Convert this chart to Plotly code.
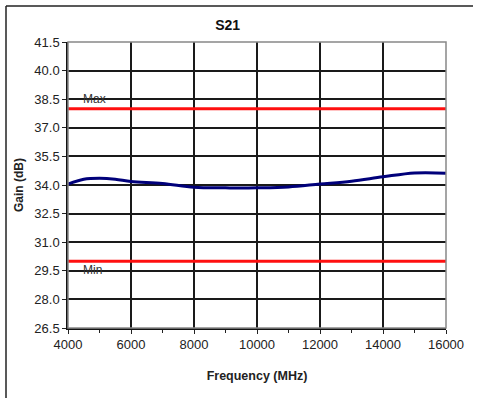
import plotly.graph_objects as go

freq = [4000, 4500, 5000, 5500, 6000, 7000, 8000, 9000, 9500, 10000, 11000, 12000, 13000, 14000, 15000, 16000]
gain = [34.05, 34.3, 34.35, 34.3, 34.18, 34.08, 33.88, 33.85, 33.84, 33.85, 33.9, 34.05, 34.2, 34.43, 34.63, 34.62]
max_limit = 38.0
min_limit = 30.0
x_range = [4000, 16000]
y_ticks = [26.5, 28.0, 29.5, 31.0, 32.5, 34.0, 35.5, 37.0, 38.5, 40.0, 41.5]

L, R, T, B = 68, 32, 42, 70
W, H = 478, 398
pw, ph = W - L - R, H - T - B

def px(x):
    return (x - L) / pw

def py(y):
    return (H - B - y) / ph

fig = go.Figure()
fig.add_trace(go.Scatter(x=x_range, y=[max_limit, max_limit], mode="lines",
                         line=dict(color="#ff1010", width=3), hoverinfo="skip"))
fig.add_trace(go.Scatter(x=x_range, y=[min_limit, min_limit], mode="lines",
                         line=dict(color="#ff1010", width=3), hoverinfo="skip"))
fig.add_trace(go.Scatter(x=freq, y=gain, mode="lines",
                         line=dict(color="#00007a", width=3, shape="spline", smoothing=1.0)))

fig.add_annotation(x=4400, y=38.5, text="Max", showarrow=False, xanchor="left",
                   font=dict(family="Liberation Sans, Arial", size=12, color="#333"))
fig.add_annotation(x=4400, y=29.55, text="Min", showarrow=False, xanchor="left",
                   font=dict(family="Liberation Sans, Arial", size=12, color="#333"))

# outer frame (left and top edges)
fig.add_shape(type="line", xref="paper", yref="paper", x0=px(6), x1=px(6), y0=py(6), y1=py(398),
              line=dict(color="#222", width=1.5))
fig.add_shape(type="line", xref="paper", yref="paper", x0=px(6), x1=px(473), y0=py(6), y1=py(6),
              line=dict(color="#222", width=1.5))
# plot area border
fig.add_shape(type="rect", xref="paper", yref="paper", x0=0, x1=1, y0=0, y1=1,
              line=dict(color="#888", width=1.5), layer="above")

fig.update_layout(
    width=W, height=H,
    margin=dict(l=L, r=R, t=T, b=B),
    paper_bgcolor="white", plot_bgcolor="white",
    showlegend=False,
    font=dict(family="Liberation Sans, Arial", size=13, color="#222"),
    title=dict(text="<b>S21</b>", x=px(248), xanchor="center", y=1 - 25 / H, yanchor="middle",
               font=dict(size=14, color="#111")),
    xaxis=dict(range=x_range, dtick=2000, tickformat="d", showgrid=True, gridcolor="#1a1a1a", gridwidth=1.5,
               ticks="outside", ticklen=4, tickcolor="#222", showline=True, linecolor="#111", linewidth=1.5,
               minor=dict(dtick=1000, ticks="outside", ticklen=3, tickcolor="#222", showgrid=False),
               zeroline=False, tickfont=dict(size=13),
               title=dict(text="<b>Frequency (MHz)</b>", font=dict(size=12.5), standoff=20)),
    yaxis=dict(range=[26.5, 41.5], tickvals=y_ticks, tickformat=".1f", showgrid=True,
               gridcolor="#1a1a1a", gridwidth=1.5, ticks="outside", ticklen=4, tickcolor="#222",
               showline=True, linecolor="#111", linewidth=1.5, zeroline=False, tickfont=dict(size=13),
               title=dict(text="<b>Gain (dB)</b>", font=dict(size=12), standoff=8)),
)

fig.write_html("out.html")
